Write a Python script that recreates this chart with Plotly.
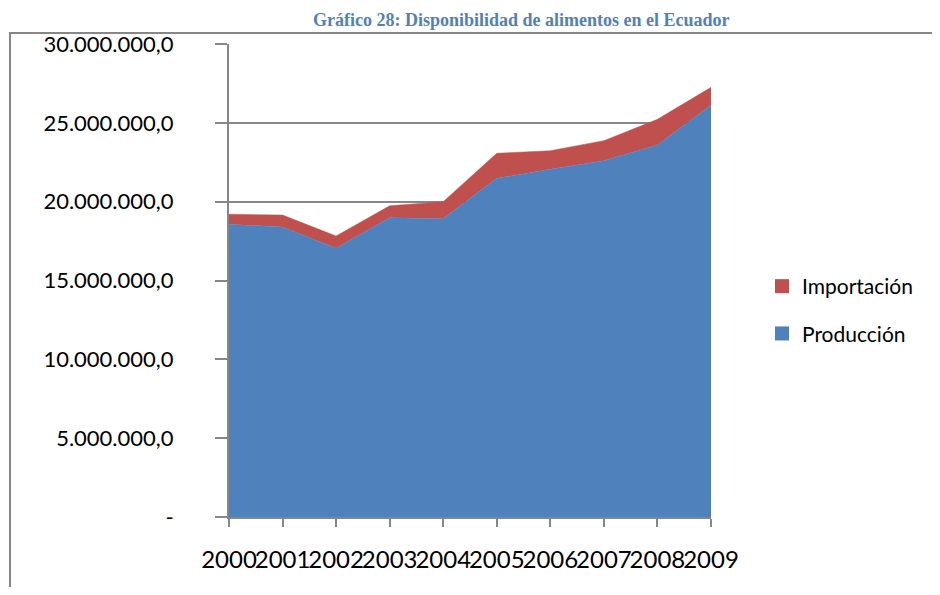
import plotly.graph_objects as go

# datos (toneladas)
anios = ["2000", "2001", "2002", "2003", "2004", "2005", "2006", "2007", "2008", "2009"]
produccion = [18560000, 18390000, 17040000, 18980000, 18920000,
              21480000, 22050000, 22600000, 23590000, 26110000]
importacion = [640000, 760000, 780000, 760000, 1080000,
               1590000, 1180000, 1270000, 1630000, 1140000]

y_ticks = [0, 5000000, 10000000, 15000000, 20000000, 25000000, 30000000]
y_labels = ["-", "5.000.000,0", "10.000.000,0", "15.000.000,0",
            "20.000.000,0", "25.000.000,0", "30.000.000,0"]

AZUL = "#4F81BD"
ROJO = "#C0504D"
GRIS = "#878787"
FUENTE = "Lato, Open Sans, sans-serif"

# la página html mete 8px de margen en el body
OFF = 8
W, H = 940 - 2 * OFF, 595 - 2 * OFF
# área de trazado en píxeles de la ventana
L, R, T, B = 229, 711, 44, 517


def px_x(x):
    return (x - L) / (R - L)


def px_y(y):
    return (B - y) / (B - T)


fig = go.Figure()

fig.add_trace(go.Scatter(
    x=anios, y=produccion, name="Producción",
    stackgroup="uno", mode="lines",
    line=dict(color=AZUL, width=0.5),
    fillcolor=AZUL, showlegend=False,
))
fig.add_trace(go.Scatter(
    x=anios, y=importacion, name="Importación",
    stackgroup="uno", mode="lines",
    line=dict(color=ROJO, width=0.5),
    fillcolor=ROJO, showlegend=False,
))

# entradas de leyenda con cuadrito, como en Excel
for nombre, color, rank in [("Importación", ROJO, 1), ("Producción", AZUL, 2)]:
    fig.add_trace(go.Scatter(
        x=[None], y=[None], mode="markers", name=nombre,
        marker=dict(symbol="square", size=14, color=color),
        legendgroup=nombre, legendrank=rank, hoverinfo="skip",
    ))

# marco del gráfico y título arriba
fig.add_shape(
    type="path", xref="paper", yref="paper",
    path=f"M {px_x(10)},{px_y(620)} L {px_x(10)},{px_y(33)} L {px_x(960)},{px_y(33)}",
    line=dict(color=GRIS, width=2), layer="above",
)
fig.add_annotation(
    text="<b>Gráfico 28: Disponibilidad de alimentos en el Ecuador</b>",
    xref="paper", yref="paper", x=px_x(521), y=px_y(OFF),
    xanchor="center", yanchor="top", showarrow=False,
    font=dict(family="Liberation Serif, Times New Roman, serif", size=18, color=AZUL),
)

fig.update_layout(
    width=W, height=H,
    margin=dict(l=L - OFF, r=W - (R - OFF), t=T - OFF, b=H - (B - OFF), autoexpand=False),
    paper_bgcolor="white", plot_bgcolor="white",
    font=dict(family=FUENTE, color="black"),
    showlegend=True,
    legend=dict(
        x=px_x(762), y=px_y(266), xanchor="left", yanchor="top",
        tracegroupgap=17,
        font=dict(size=21, family=FUENTE, color="black"),
        itemwidth=30, bgcolor="rgba(0,0,0,0)",
    ),
    xaxis=dict(
        type="category", range=[0, 9],
        showline=True, linecolor=GRIS, linewidth=2,
        ticks="outside", ticklen=8, tickcolor=GRIS, tickwidth=2,
        showgrid=False, tickangle=0,
        tickfont=dict(size=24, family=FUENTE, color="black"),
        ticklabelstandoff=12, zeroline=False,
    ),
    yaxis=dict(
        range=[0, 30000000],
        tickvals=y_ticks, ticktext=y_labels,
        showline=True, linecolor=GRIS, linewidth=2,
        ticks="outside", ticklen=12, tickcolor=GRIS, tickwidth=2,
        showgrid=True, gridcolor=GRIS, gridwidth=2,
        tickfont=dict(size=22, family=FUENTE, color="black"),
        ticklabelstandoff=37, zeroline=False,
    ),
)

fig.write_html("out.html")
